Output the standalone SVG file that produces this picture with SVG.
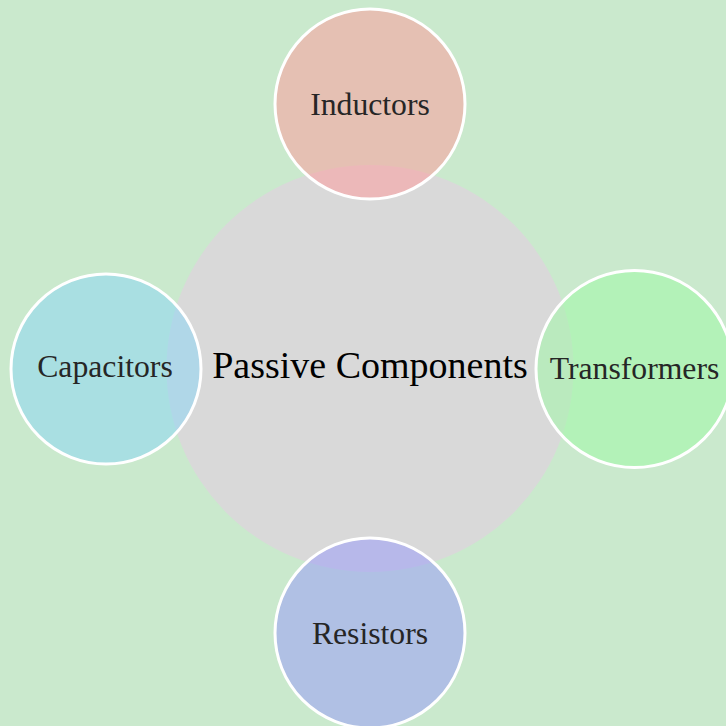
<svg xmlns="http://www.w3.org/2000/svg" width="726" height="726" viewBox="0 0 726 726">
<style>
.sat{stroke:#ffffff;stroke-width:3}
.lbl{font-family:"Liberation Serif","Times New Roman",serif;font-size:31.7px;fill:#262626;text-anchor:middle}
.hub{font-family:"Liberation Serif","Times New Roman",serif;font-size:38px;fill:#000000;text-anchor:middle}
</style>
<rect x="0" y="0" width="726" height="726" fill="#cae9cd"/>
<g id="hub-circle">
<circle cx="370" cy="368.5" r="203.5" fill="#d9d9d9"/>
</g>
<g id="connectors"></g>
<g id="inductors">
<circle class="sat" cx="370" cy="104" r="95" fill="#ff989a" fill-opacity="0.5"/>
<text class="lbl" x="370" y="115">Inductors</text>
</g>
<g id="capacitors">
<circle class="sat" cx="106" cy="369" r="95" fill="#87d5f8" fill-opacity="0.5"/>
<text class="lbl" x="105" y="376.7">Capacitors</text>
</g>
<g id="transformers">
<circle class="sat" cx="634.5" cy="369" r="98.5" fill="#9bfba4" fill-opacity="0.5"/>
<text class="lbl" x="634.5" y="379.3">Transformers</text>
</g>
<g id="resistors">
<circle class="sat" cx="370" cy="633" r="95" fill="#9597fc" fill-opacity="0.5"/>
<text class="lbl" x="370" y="644">Resistors</text>
</g>
<g id="hub">
<text class="hub" x="370" y="377.7">Passive Components</text>
</g>
</svg>
